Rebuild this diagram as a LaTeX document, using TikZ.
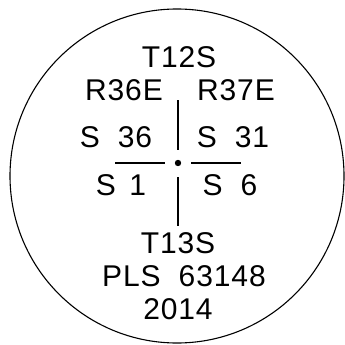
\documentclass[tikz,border=0pt]{standalone}
\usepackage{fontspec}
\setmainfont{Liberation Sans}
\newfontfamily\platfont[LetterSpace=3]{Liberation Sans}
\usetikzlibrary{positioning}

\tikzset{
  lbl/.style={anchor=base,inner sep=0pt,font=\platfont\fontsize{30}{30}\selectfont},
  tick/.style={line width=1.2pt}
}

\begin{document}
\begin{tikzpicture}[x=1pt,y=-1pt]
\useasboundingbox (0,0) rectangle (345,345);
\draw[line width=1.1pt] (177,176) circle (167);
% section corner
\coordinate (c) at (178,163);
\fill (c) circle (3.2);
\draw[tick] (178,100) -- (178,150);
\draw[tick] (178,177) -- (178,226);
\draw[tick] (115,163) -- (165,163);
\draw[tick] (191,163) -- (241,163);
% labels
\node[lbl] (t12) at (179,67) {T12S};
\node[lbl] (r36) at (124,100) {R36E};
\node[lbl] (r37) at (236,100) {R37E};
\node[lbl] (s36) at (116,147) {S\hspace{0.6em}36};
\node[lbl] (s31) at (233,147) {S\hspace{0.6em}31};
\node[lbl] (s1) at (121,195) {S\hspace{0.45em}1};
\node[lbl] (s6) at (230,195) {S\hspace{0.6em}6};
\node[lbl] (t13) at (178,253) {T13S};
\node[lbl] (pls) at (184,286) {PLS\hspace{0.6em}63148};
\node[lbl] (yr) at (178,319) {2014};
\end{tikzpicture}
\end{document}
